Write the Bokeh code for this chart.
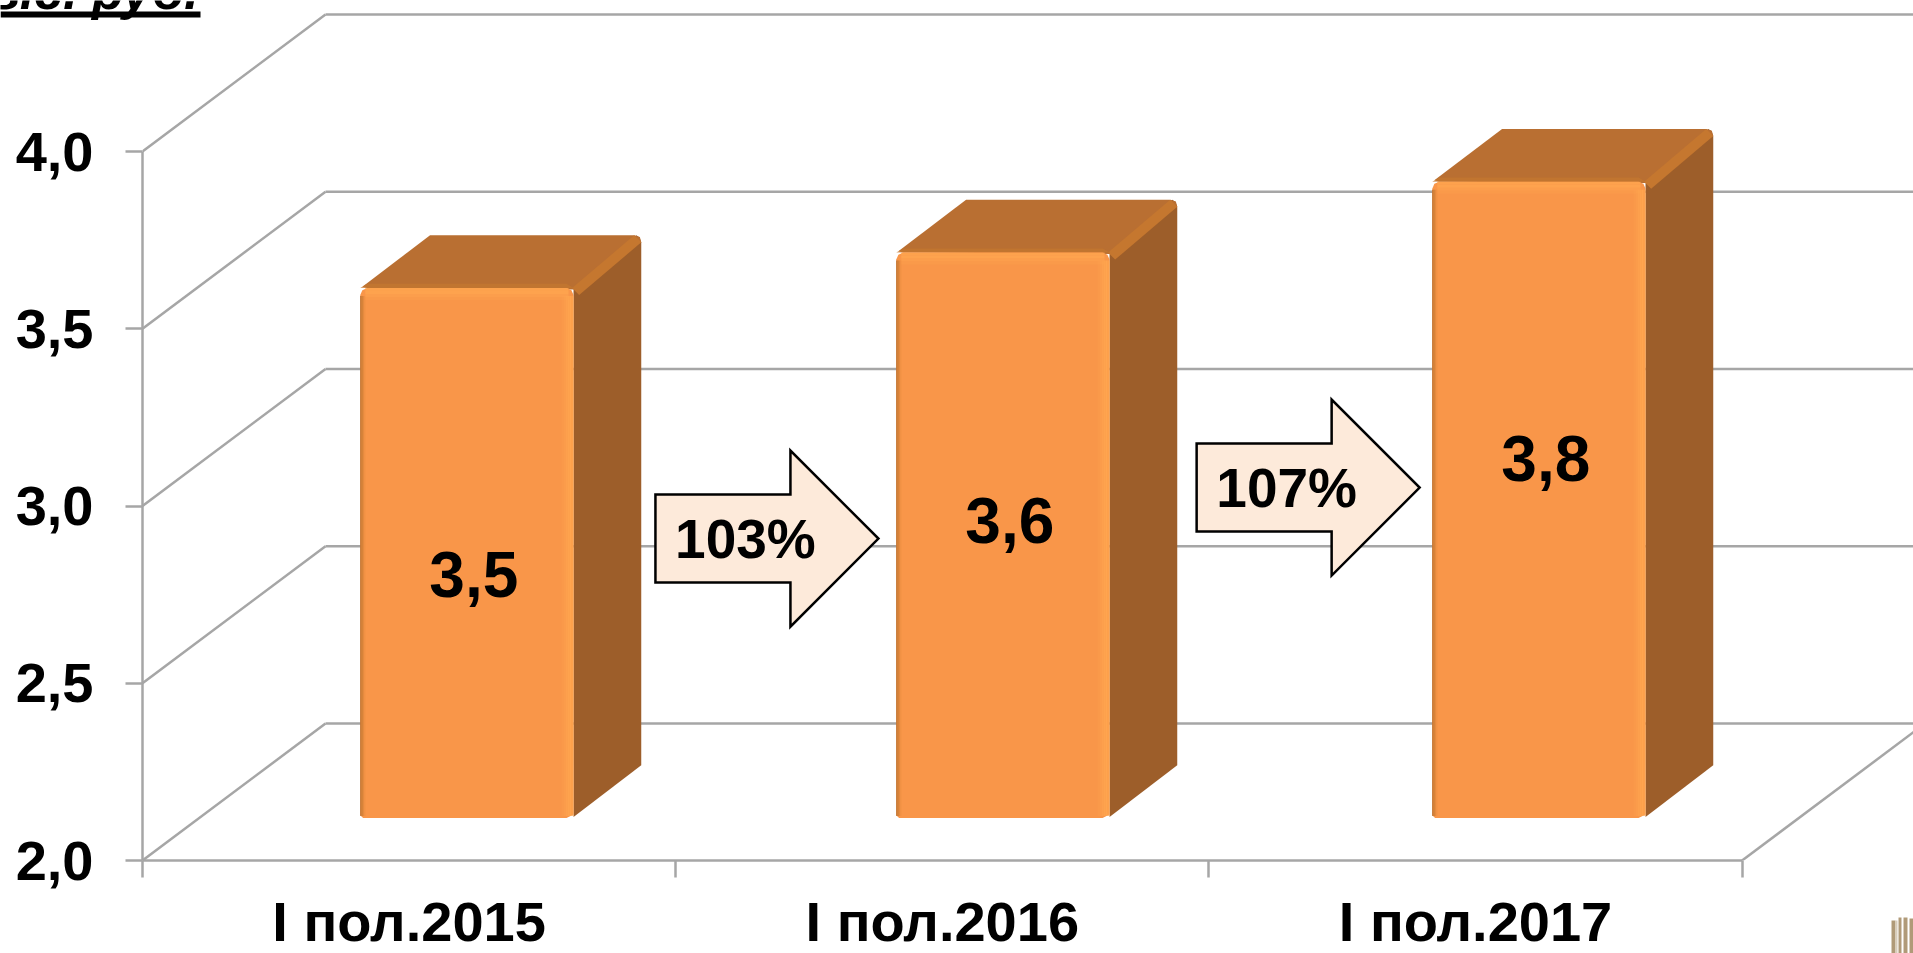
from bokeh.plotting import figure
from bokeh.models import Range1d, FixedTicker
from bokeh.core.properties import value
from bokeh.embed import file_html
from bokeh.resources import INLINE

categories = ["I пол.2015", "I пол.2016", "I пол.2017"]
bar_values = [3.495, 3.595, 3.795]
bar_labels = ["3,5", "3,6", "3,8"]
label_y = [2.807, 2.958, 3.134]
y_ticks = [2.0, 2.5, 3.0, 3.5, 4.0]
y_tick_labels = ["2,0", "2,5", "3,0", "3,5", "4,0"]
arrow_labels = ["103%", "107%"]
arrow_x = [0.962, 1.977]
arrow_y = [2.908, 3.052]
unit_label = "тыс. руб."

FONT = "Liberation Sans"
GRID = "#A6A6A6"
FACE, TOP, SIDE = "#F99649", "#B96F32", "#9D5E2A"

W, H = 1913, 953
LEFT, BOTTOM = 142, 860
PX_X = 533.2
PX_Y = 354.5
ux, uy = 1 / PX_X, 1 / PX_Y
x_end = (W - LEFT) * ux
y_end = 2 + BOTTOM * uy
DX, DY = 183 * ux, 137 * uy      # full depth of the 3D box

p = figure(width=W, height=H, output_backend="svg", toolbar_location=None,
           x_range=Range1d(0, x_end), y_range=Range1d(2, y_end),
           min_border_left=LEFT, min_border_right=0, min_border_top=0, min_border_bottom=H - BOTTOM,
           frame_width=W - LEFT, frame_height=BOTTOM, outline_line_color=None,
           background_fill_color="white", border_fill_color="white")
p.grid.visible = False

# Axes
ya = p.yaxis[0]
ya.ticker = FixedTicker(ticks=y_ticks)
ya.major_label_overrides = dict(zip(y_ticks, y_tick_labels))
ya.bounds = (2, 4)
ya.major_label_text_font = FONT
ya.major_label_text_font_size = "56px"
ya.major_label_text_font_style = "bold"
ya.major_label_text_color = "black"
ya.major_label_standoff = 32
ya.major_tick_in = 0
ya.major_tick_out = 17
ya.minor_tick_in = ya.minor_tick_out = 0
for a in (ya, p.xaxis[0]):
    a.axis_line_color = GRID
    a.axis_line_width = 2.5
    a.major_tick_line_color = GRID
    a.major_tick_line_width = 2.5

xa = p.xaxis[0]
centers = [0.5, 1.5, 2.5]
xa.ticker = FixedTicker(ticks=centers, minor_ticks=[0, 1, 2, 3])
xa.major_label_overrides = dict(zip(centers, categories))
xa.bounds = (0, 3)
xa.major_label_text_font = FONT
xa.major_label_text_font_size = "56px"
xa.major_label_text_font_style = "bold"
xa.major_label_text_color = "black"
xa.major_label_standoff = 12
xa.major_tick_in = xa.major_tick_out = 0
xa.minor_tick_in = 0
xa.minor_tick_out = 17
xa.minor_tick_line_color = GRID
xa.minor_tick_line_width = 2.5

# Back wall, side wall and floor
for v in y_ticks:
    p.line([0, DX], [v, v + DY], line_color=GRID, line_width=2.5)
    p.line([DX, 3 + DX], [v + DY, v + DY], line_color=GRID, line_width=2.5)
p.line([3, 3 + DX], [2, 2 + DY], line_color=GRID, line_width=2.5)

# Bars
d_front, d_size_x, d_size_y = 0.31, 0.37, 0.385
bar_w = 0.4
for i, val in enumerate(bar_values):
    x0 = i + 0.5 + d_front * DX - bar_w / 2 + 0.002 + i * 2.8 * ux
    x1 = x0 + bar_w
    y0 = 2 + d_front * DY
    v = val + d_front * DY
    ox, oy = d_size_x * DX, d_size_y * DY
    c = 7
    cx, cy = c * ux, c * uy
    # side
    p.patch([x1, x1 + ox, x1 + ox, x1 + ox - cx * .25, x1 + ox - cx * .7, x1],
            [y0 + 1 * uy, y0 + oy, v + oy - cy, v + oy - cy * .3, v + oy, v],
            fill_color=SIDE, line_color=None)
    # top
    p.patch([x0 + cx * .3, x0 + ox + cx * .3, x1 + ox - cx, x1 + ox - cx * .2, x1 + ox, x1 + cx * .3, x0 + cx],
            [v + cy * .2, v + oy, v + oy, v + oy - cy * .25, v + oy - cy, v - cy * .2, v],
            fill_color=TOP, line_color=None)
    # ridge between top and side
    p.patch([x1 - cx * .2, x1 + ox - cx, x1 + ox, x1 + cx * .8],
            [v, v + oy, v + oy - cy, v - cy],
            fill_color="#C5772F", line_color=None)
    # soft shade of the top's front edge
    p.patch([x0, x1, x1 - cx, x0 + cx],
            [v, v, v + cy * .6, v + cy * .6], fill_color="#C5772F", fill_alpha=.7, line_color=None)
    # face
    xs = [x0, x0 + cx * .3, x0 + cx, x1 - cx, x1 - cx * .3, x1, x1, x1 - cx, x0 + cx * .4, x0]
    ys = [v - cy, v - cy * .3, v, v, v - cy * .3, v - cy, y0 + cy * .5, y0, y0, y0 + cy * .4]
    p.patch(xs, ys, fill_color=FACE, line_color=None)
    # bevels of the face
    for k, col in enumerate(["#B9702F", "#D07F38", "#E58A3F", "#F09144"]):
        p.quad(left=x0 + k * 1.3 * ux, right=x0 + (k + 1) * 1.3 * ux,
               bottom=y0 + 2 * uy, top=v - 8 * uy, fill_color=col, line_color=None)
    for k, a in enumerate([.2, .4, .6, .8, .9, .7]):
        p.quad(left=x1 - (12 - 2 * k) * ux, right=x1 - (10 - 2 * k) * ux, bottom=y0 + 2 * uy, top=v - 8 * uy,
               fill_color="#FFA650", fill_alpha=a, line_color=None)
    for k, a in enumerate([.7, .8, .5, .25]):
        p.quad(left=x0 + 5 * ux, right=x1 - 5 * ux, bottom=v - (k + 1) * 3 * uy, top=v - k * 3 * uy,
               fill_color="#FFA650", fill_alpha=a, line_color=None)
    p.text([i + 0.5 + d_front * DX + 0.015 + i * 2.8 * ux], [label_y[i]], text=[bar_labels[i]],
           text_font=value(FONT), text_font_style="bold", text_font_size="64px",
           text_align="center", text_baseline="middle", text_color="black")

# Growth arrows
for ax, ay, t in zip(arrow_x, arrow_y, arrow_labels):
    xs = [ax, ax + 135 * ux, ax + 135 * ux, ax + 223 * ux, ax + 135 * ux, ax + 135 * ux, ax]
    ys = [ay + 44 * uy, ay + 44 * uy, ay + 88 * uy, ay, ay - 88 * uy, ay - 44 * uy, ay - 44 * uy]
    p.patch(xs + xs[:1], ys + ys[:1], fill_color="#FDEADA", line_color="black", line_width=2.5,
            line_join="miter")
    p.text([ax + 90 * ux], [ay], text=[t], text_font=value(FONT), text_font_style="bold",
           text_font_size="55px", text_align="center", text_baseline="middle", text_color="black")

# A transparent layer over the whole page for what lies outside the plot frame
q = figure(width=W, height=H, output_backend="svg", toolbar_location=None,
           x_range=Range1d(0, W), y_range=Range1d(H, 0),
           min_border=0, outline_line_color=None, x_axis_type=None, y_axis_type=None,
           background_fill_alpha=0, border_fill_alpha=0,
           styles={"position": "absolute", "left": "0px", "top": "0px"})
q.grid.visible = False
q.text([198], [-10], text=[unit_label], text_font=value(FONT), text_font_size="52px",
       text_font_style="bold italic", text_align="right", text_baseline="alphabetic", text_color="black")
q.quad(left=[0], right=[200], top=[11], bottom=[17], fill_color="black", line_color=None)

# Small decorative mark at the bottom-right corner
q.quad(left=[1891, 1895, 1898, 1903, 1909], right=[1895, 1897, 1901, 1907, 1913],
       top=[920, 920, 917, 917, 918], bottom=[H] * 5,
       fill_color=["#B09A78", "#D8CDBB", "#B09A78", "#B09A78", "#B09A78"], line_color=None)

open("out.html", "w").write(file_html((p, q), INLINE))
